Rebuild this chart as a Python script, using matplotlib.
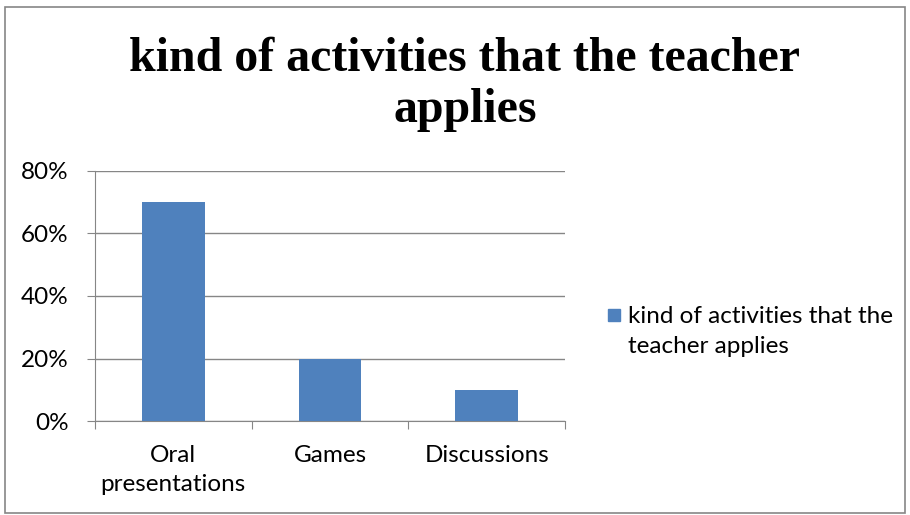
import matplotlib.pyplot as plt
from matplotlib.patches import Rectangle
from matplotlib.ticker import FuncFormatter

categories = ['Oral\npresentations', 'Games', 'Discussions']
values = [0.70, 0.20, 0.10]
series_name = 'kind of activities that the\nteacher applies'
title = 'kind of activities that the teacher\napplies'

W, H = 910, 515
fig = plt.figure(figsize=(W / 100, H / 100), dpi=100)
fig.patches.append(Rectangle((5 / W, 2 / H), 900 / W, 506 / H, transform=fig.transFigure,
                             fill=False, edgecolor='#868686', linewidth=1.2))

ax = fig.add_axes([95 / W, 1 - 421 / H, 470 / W, 250 / H])
x = range(len(categories))
ax.bar(x, values, width=0.4, color='#4F81BD', zorder=3)
ax.set_xlim(-0.5, 2.5)
ax.set_ylim(0, 0.8)
ax.set_yticks([0, 0.2, 0.4, 0.6, 0.8])
ax.yaxis.set_major_formatter(FuncFormatter(lambda v, p: f'{v*100:.0f}%'))
ax.grid(axis='y', color='#868686', linewidth=1, zorder=0)

for s in ['top', 'right']:
    ax.spines[s].set_visible(False)
ax.spines['left'].set_color('#868686')
ax.spines['bottom'].set_color('#868686')

fs = 17.5
ax.set_xticks([-0.5, 0.5, 1.5, 2.5])
ax.set_xticklabels([])
ax.set_xticks(list(x), minor=True)
ax.set_xticklabels(categories, minor=True, fontsize=fs, family='Lato', linespacing=1.5)
ax.tick_params(axis='x', which='minor', length=0, pad=17)
ax.tick_params(axis='x', which='major', length=6, color='#868686')
ax.tick_params(axis='y', length=6, color='#868686', labelsize=fs, pad=13)
for lbl in ax.get_yticklabels():
    lbl.set_family('Lato')

fig.text(465 / W, 1 - 122 / H, title, ha='center', va='baseline', fontsize=34.5,
         fontweight='bold', family='Liberation Serif', linespacing=1.2)

fig.patches.append(Rectangle((608 / W, 1 - 321 / H), 12 / W, 12 / H,
                             transform=fig.transFigure, color='#4F81BD'))
fig.text(628 / W, 1 - 353 / H, series_name, ha='left', va='baseline', fontsize=fs,
         family='Lato', linespacing=1.55)

fig.savefig('out.png', dpi=100)
